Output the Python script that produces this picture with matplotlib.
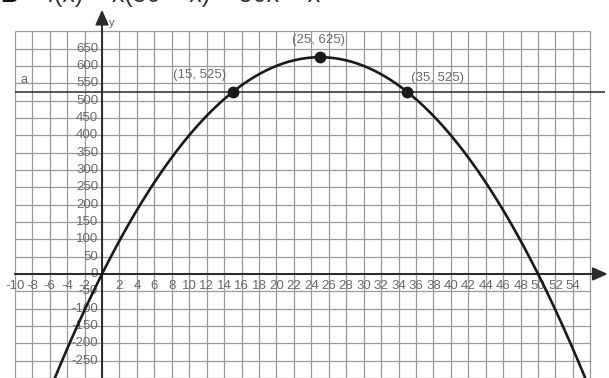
import numpy as np
import matplotlib.pyplot as plt

plt.rcParams['font.family'] = ['Liberation Sans', 'DejaVu Sans']

# f(x) = x(50 - x)
a_level = 525
pts_x = [15, 25, 35]
pts_y = [525, 625, 525]
pt_labels = ['(15, 525)', '(25, 625)', '(35, 525)']
label_pos = [(11.2, 574), (24.8, 675), (38.5, 565)]
x_ticks = [v for v in range(-10, 55, 2) if v != 0]
y_ticks = list(range(-250, 651, 50))

fig = plt.figure(figsize=(6.09, 3.78), dpi=100)
ax = fig.add_axes([0, 0, 1, 1])
ax.axis('off')
ax.set_xlim(-11.70, 58.14)
ax.set_ylim(-300, 790)

# squared paper
grid_c = '#9a9a9a'
ax.vlines(np.arange(-10, 57, 2), -300, 700, color=grid_c, lw=0.9, zorder=1)
ax.hlines(np.arange(-300, 701, 50), -10, 56, color=grid_c, lw=0.9, zorder=1)

# axes with arrows
ax_c = '#2a2a2a'
ax.annotate('', xy=(58.0, 0), xytext=(-10, 0),
            arrowprops=dict(arrowstyle='-|>,head_length=0.9,head_width=0.4',
                            color=ax_c, lw=1.4, shrinkA=0, shrinkB=0), zorder=3)
ax.annotate('', xy=(0, 762), xytext=(0, -300),
            arrowprops=dict(arrowstyle='-|>,head_length=0.9,head_width=0.4',
                            color=ax_c, lw=1.4, shrinkA=0, shrinkB=0), zorder=3)
ax.text(0.8, 725, 'y', fontsize=8, color='#555', ha='left', va='center')

# line y = a
ax.hlines(a_level, -10, 57.7, color=ax_c, lw=1.1, zorder=3)
ax.text(-9.3, 560, 'a', fontsize=9, color='#666', ha='left', va='center')

# tick labels
lab_c = '#6a6a6a'
for v in x_ticks:
    ax.text(v, -35, str(v), fontsize=9.5, color=lab_c, ha='center', va='center', zorder=2)
for v in y_ticks:
    ax.text(-0.45, v, str(v), fontsize=9.5, color=lab_c, ha='right', va='center', zorder=2)

# parabola
xs = np.linspace(-5.5, 55.5, 400)
ax.plot(xs, xs * (50 - xs), color='#1a1a1a', lw=1.9, zorder=4)
ax.plot(pts_x, pts_y, 'o', color='#1a1a1a', ms=7.5, zorder=5)
for lbl, (lx, ly) in zip(pt_labels, label_pos):
    ax.text(lx, ly, lbl, fontsize=9.5, color=lab_c, ha='center', va='center', zorder=5)

# heading (runs off the top edge)
fig.text(0.0, 1 - 2 / 378, 'B', fontsize=18, weight='bold', color='#111', va='baseline')
fig.text(47 / 609, 1 - 2 / 378, 'f(x) = x(50 \u2212 x) = 50x \u2212 x\u00b2',
         fontsize=18, color='#333', va='baseline')

fig.savefig('out.png', dpi=100)
